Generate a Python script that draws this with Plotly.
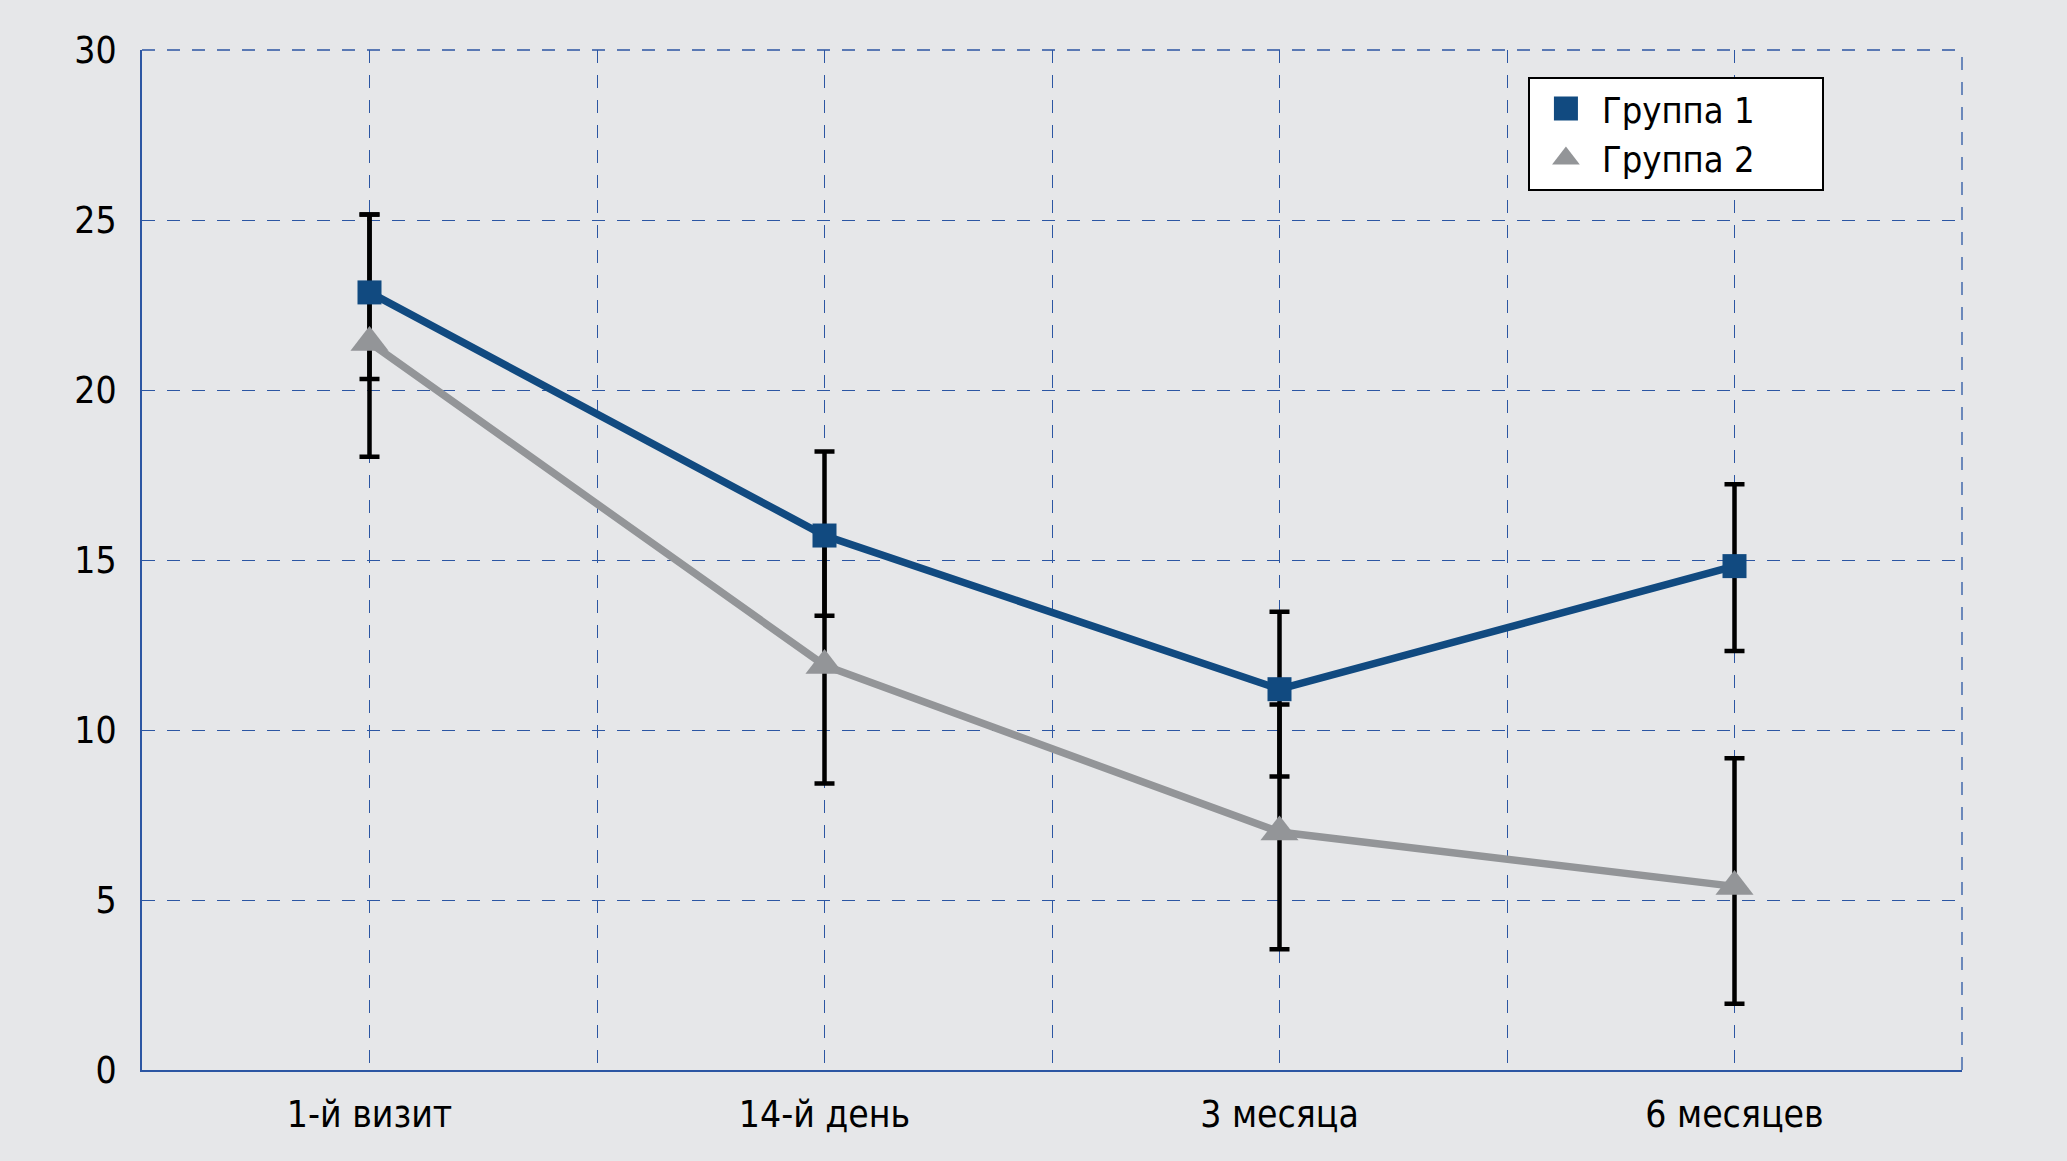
import plotly.graph_objects as go

categories = ["1-й визит", "14-й день", "3 месяца", "6 месяцев"]
cat_pos = [0.5, 1.5, 2.5, 3.5]

group1 = [22.87, 15.72, 11.2, 14.82]
group1_plus = [2.29, 2.47, 2.28, 2.41]
group1_minus = [2.55, 2.36, 2.57, 2.5]

group2 = [21.4, 11.9, 7.0, 5.4]
group2_plus = [3.76, 3.6, 3.75, 3.77]
group2_minus = [3.36, 3.47, 3.45, 3.45]

series_names = ["Группа 1", "Группа 2"]
y_ticks = [0, 5, 10, 15, 20, 25, 30]
x_grid = [0.5, 1.0, 1.5, 2.0, 2.5, 3.0, 3.5, 4.0]

BLUE = "#114a80"
GRAY = "#939598"
GRID = "#2c56a3"
BG = "#e6e7e9"
FONT = "Liberation Sans Narrow, Arial Narrow, DejaVu Sans Condensed, Liberation Sans, sans-serif"
PAD = "\u00a0" * 6

fig = go.Figure()

# error bars (drawn beneath all markers)
for vals, plus, minus in [(group1, group1_plus, group1_minus), (group2, group2_plus, group2_minus)]:
    fig.add_trace(go.Scatter(
        x=cat_pos, y=vals, mode="markers",
        marker=dict(size=1, opacity=0),
        error_y=dict(type="data", symmetric=False, array=plus, arrayminus=minus,
                     color="black", thickness=4.5, width=10),
        showlegend=False, hoverinfo="skip",
    ))

styles = [
    (group1, BLUE, "square", 24),
    (group2, GRAY, "triangle-up", 33),
]
for name, (vals, col, sym, sz) in zip(series_names, styles):
    fig.add_trace(go.Scatter(
        x=cat_pos, y=vals, mode="lines+markers", name=name,
        line=dict(color=col, width=7.5),
        marker=dict(symbol=sym, size=sz, color=col),
        showlegend=False,
    ))
# legend entries show marker only
for name, (vals, col, sym, sz) in zip(series_names, styles):
    fig.add_trace(go.Scatter(
        x=[None], y=[None], mode="markers", name=name + PAD,
        marker=dict(symbol=sym, size=sz, color=col),
    ))

ticktext = []
for v in x_grid:
    if v in cat_pos:
        ticktext.append(categories[cat_pos.index(v)])
    else:
        ticktext.append("")

grid_dash = "13px,12px"
fig.update_layout(
    width=2067, height=1161,
    paper_bgcolor=BG, plot_bgcolor=BG,
    margin=dict(l=142, r=105, t=50, b=91),
    font=dict(family=FONT, size=37, color="black"),
    legend=dict(
        x=0.7615, y=0.9738, xanchor="left", yanchor="top",
        bgcolor="white", bordercolor="black", borderwidth=2,
        font=dict(family=FONT, size=36, color="black"),
        itemwidth=62,
    ),
    xaxis=dict(
        range=[0, 4], tickvals=x_grid, ticktext=ticktext,
        showgrid=True, gridcolor=GRID, gridwidth=1.3, griddash=grid_dash,
        showline=True, linecolor=GRID, linewidth=2,
        ticks="", zeroline=False, ticklabelstandoff=11,
        tickfont=dict(family=FONT, size=37),
    ),
    yaxis=dict(
        range=[0, 30], tickvals=y_ticks,
        showgrid=True, gridcolor=GRID, gridwidth=1.3, griddash=grid_dash,
        showline=True, linecolor=GRID, linewidth=2,
        ticks="", zeroline=False, ticklabelstandoff=16,
        tickfont=dict(family=FONT, size=37),
    ),
    shapes=[
        dict(type="line", xref="paper", yref="paper", x0=0, x1=1, y0=1, y1=1,
             line=dict(color=GRID, width=1.3, dash=grid_dash), layer="below"),
        dict(type="line", xref="paper", yref="paper", x0=1, x1=1, y0=0, y1=1,
             line=dict(color=GRID, width=1.3, dash=grid_dash), layer="below"),
    ],
)

post = """
document.body.style.margin='0';
document.querySelectorAll('.legend .legendpoints path.scatterpts').forEach(function(p){
  p.setAttribute('transform', (p.getAttribute('transform')||'') + ' scale(1.5)');
});
"""
fig.write_html("out.html", post_script=post, config={"displayModeBar": False})
